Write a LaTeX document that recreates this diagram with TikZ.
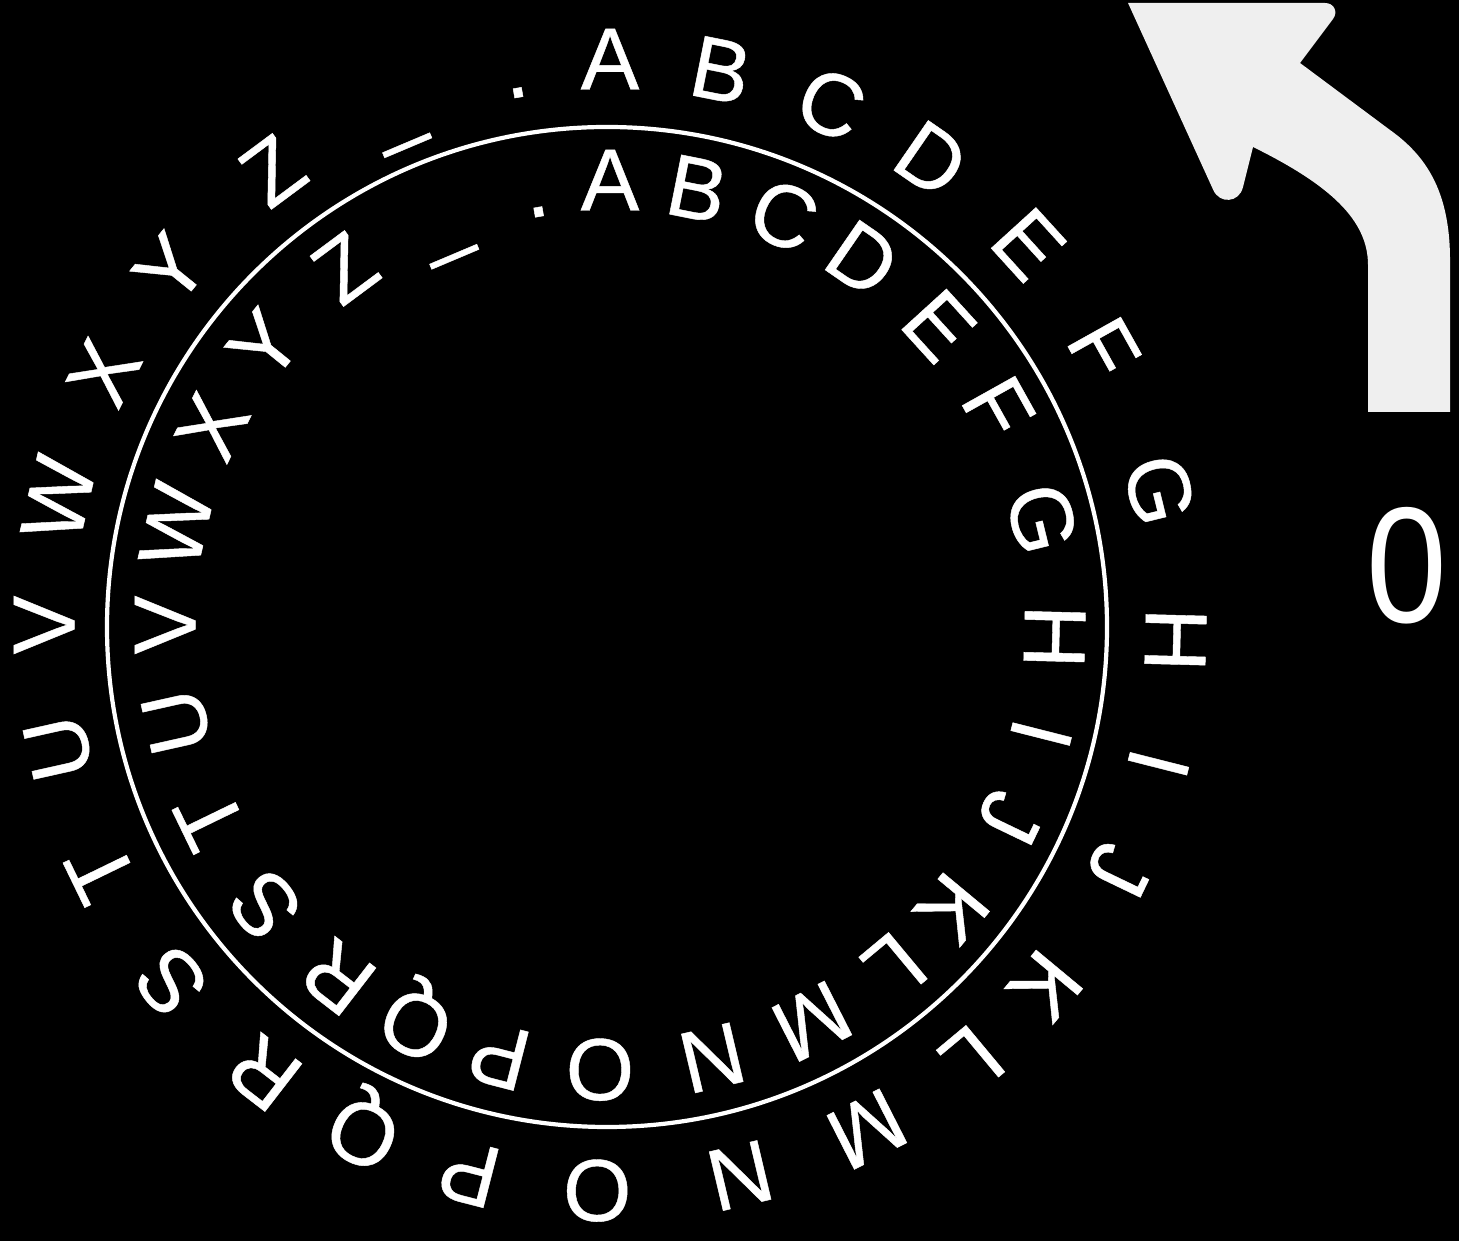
\documentclass[tikz,border=0pt]{standalone}
\usepackage{fontspec}
\setmainfont{Liberation Sans}
\newfontfamily\wheelfont{Liberation Sans}[FakeBold=0.5]
\usetikzlibrary{calc}
\definecolor{arrowgray}{RGB}{239,239,239}
\begin{document}
\begin{tikzpicture}[x=1pt,y=1pt,
  letter/.style={text=white, font=\wheelfont\fontsize{88}{88}\selectfont, inner sep=0pt, anchor=center, text height=63pt, text depth=0pt},
  ring/.style={draw=white, line width=4.2pt},
  bigarrow/.style={fill=arrowgray},
  offsetlabel/.style={text=white, font=\fontsize{165}{165}\selectfont, inner sep=0pt, anchor=center, text height=118pt, text depth=0pt, xscale=0.88}]
\fill[black] (0,0) rectangle (1459,1241);
\useasboundingbox (0,0) rectangle (1459,1241);
\coordinate (C) at (607,614);
\coordinate (L) at (610,616);
\draw[ring] (C) circle[radius=500];
\foreach \ch/\ang [count=\i from 0] in {A/90, B/78.7, C/67.0, D/55.4, E/42.3, F/29.2, G/13.8, H/-1.5,
    I/-14.2, J/-25.7, K/-39.7, L/-50.2, M/-63, N/-76.7, O/-91.3, P/-104.4, Q/-115.9, R/-127.7,
    S/-140.9, T/-154.1, U/-167.4, V/-180, W/-192.9, X/-206.5, Y/-219, Z/-233.4, \_/-247.1, ./-260.2} {
  \pgfmathsetmacro\rot{\ang-90}
  \node[letter, rotate=\rot] (in\i) at ($(L)+(\ang:446)$) {\ch};
  \node[letter, rotate=\rot] (out\i) at ($(L)+(\ang:567)$) {\ch};
}
\fill[bigarrow] (1368,829) -- (1368,976) .. controls (1368,1021) and (1330,1056) .. (1253,1094)
  -- (1242.9,1053.6) .. controls (1239.1,1038.3) and (1219.8,1036.6) .. (1213.3,1050.9)
  -- (1128,1238) -- (1325,1238) .. controls (1334,1238) and (1338.4,1229.2) .. (1333,1222)
  -- (1300,1178) -- (1390,1111) .. controls (1425,1086) and (1450,1051) .. (1450,981)
  -- (1450,829) -- cycle;
\node[offsetlabel] (offset) at (1407,677) {0};
\end{tikzpicture}
\end{document}
